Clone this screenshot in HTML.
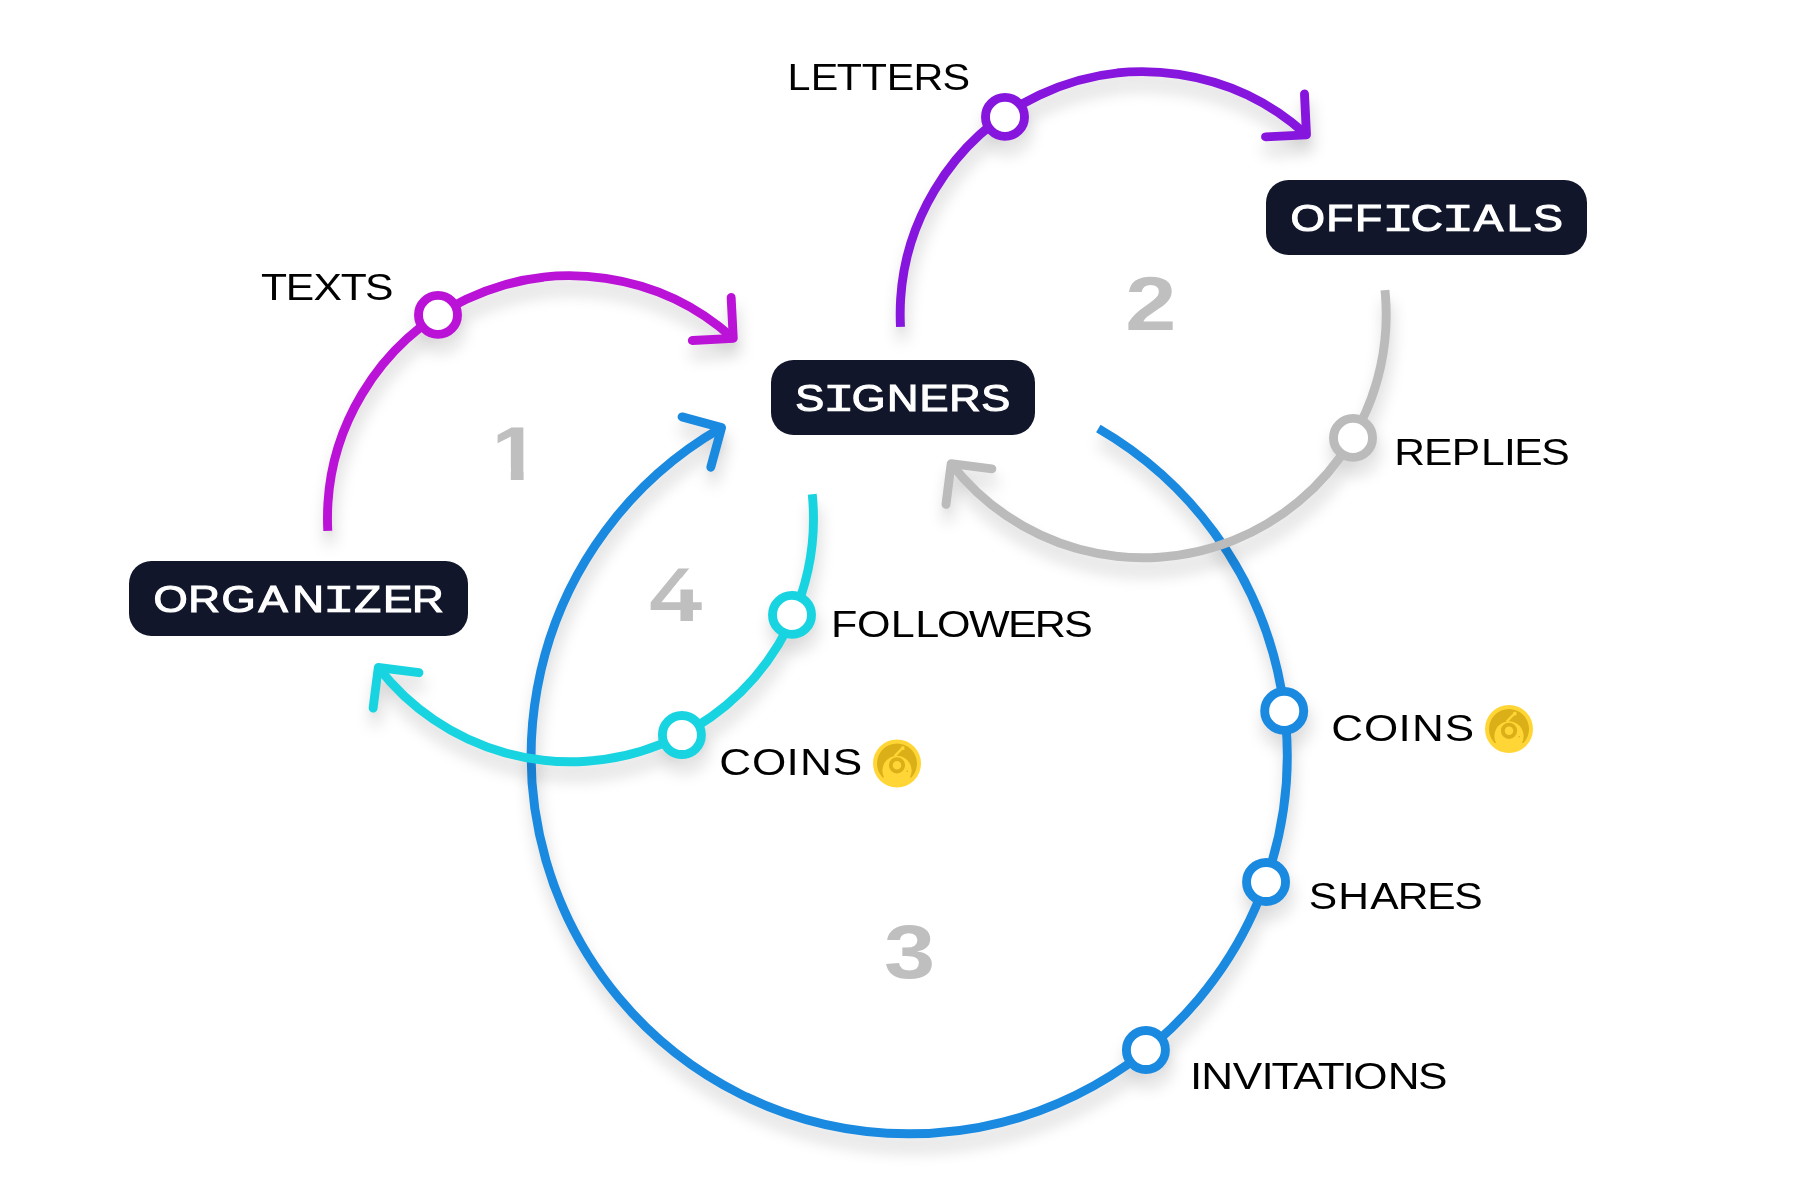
<!DOCTYPE html>
<html lang="en">
<head>
<meta charset="utf-8">
<title>Flow diagram</title>
<style>
  html, body { margin: 0; padding: 0; background: #fff; }
  body { width: 1800px; height: 1200px; overflow: hidden; }
  svg { display: block; }
  text { font-family: "Liberation Sans", sans-serif; font-size: 100px; }
  .bx { font-weight: 400; fill: #fff; stroke: #fff; stroke-width: 3.0px; }
  .lb { font-weight: 400; fill: #000; }
  .nm { font-weight: 700; fill: #BFBFBF; }
</style>
</head>
<body>
<svg width="1800" height="1200" viewBox="0 0 1800 1200" role="img" aria-label="Flow diagram: organizer, signers, officials">
  <defs>
    <filter id="sh" x="0" y="0" width="1800" height="1200" filterUnits="userSpaceOnUse" color-interpolation-filters="sRGB">
      <feGaussianBlur in="SourceAlpha" stdDeviation="7.3"/>
      <feOffset dx="2" dy="12.5" result="b"/>
      <feFlood flood-color="#000" flood-opacity="0.165"/>
      <feComposite in2="b" operator="in" result="s1"/>
      <feGaussianBlur in="SourceAlpha" stdDeviation="3"/>
      <feOffset dx="1" dy="5" result="b2"/>
      <feFlood flood-color="#000" flood-opacity="0.03"/>
      <feComposite in2="b2" operator="in" result="s2"/>
      <feMerge><feMergeNode in="s1"/><feMergeNode in="s2"/></feMerge>
    </filter>
    <clipPath id="one" clipPathUnits="userSpaceOnUse">
      <rect x="497.6" y="420" width="14" height="48"/>
      <rect x="510.8" y="420" width="12.8" height="62"/>
    </clipPath>
    <g id="arc-blue-l">
      <path d="M1098.33 428.52A378.00 378.00 0 1 1 721.58 427.65"/>
      <path d="M682.03 416.87L721.58 427.65L710.81 467.20" stroke-linecap="round" stroke-linejoin="round"/>
    </g>
    <g id="arc-blue-n">
      <circle cx="1284.20" cy="710.90" r="19.5"/>
      <circle cx="1266.05" cy="882.00" r="19.5"/>
      <circle cx="1145.90" cy="1050.00" r="19.5"/>
    </g>
    <g id="arc-grey-l">
      <path d="M1384.94 290.10A243.00 243.00 0 0 1 951.15 463.69"/>
      <path d="M946.00 504.36L951.15 463.69L991.83 468.84" stroke-linecap="round" stroke-linejoin="round"/>
    </g>
    <g id="arc-grey-n">
      <circle cx="1353.00" cy="437.90" r="19.5"/>
    </g>
    <g id="arc-purple-l">
      <path d="M900.50 326.89A243.00 243.00 0 0 1 1306.47 134.82"/>
      <path d="M1304.48 93.87L1306.47 134.82L1265.52 136.82" stroke-linecap="round" stroke-linejoin="round"/>
    </g>
    <g id="arc-purple-n">
      <circle cx="1005.00" cy="116.90" r="19.5"/>
    </g>
    <g id="arc-magenta-l">
      <path d="M327.80 530.87A243.00 243.00 0 0 1 733.25 338.35"/>
      <path d="M731.14 297.41L733.25 338.35L692.31 340.46" stroke-linecap="round" stroke-linejoin="round"/>
    </g>
    <g id="arc-magenta-n">
      <circle cx="438.00" cy="314.90" r="19.5"/>
    </g>
    <g id="arc-cyan-l">
      <path d="M812.25 494.20A243.00 243.00 0 0 1 378.30 667.48"/>
      <path d="M373.10 708.15L378.30 667.48L418.97 672.68" stroke-linecap="round" stroke-linejoin="round"/>
    </g>
    <g id="arc-cyan-n">
      <circle cx="792.00" cy="614.90" r="19.5"/>
      <circle cx="681.90" cy="735.00" r="19.5"/>
    </g>
    <clipPath id="four" clipPathUnits="userSpaceOnUse">
      <path d="M640 560H696.2L671.9 589.6H712V630H640Z"/>
    </clipPath>
    <g id="coin">
      <circle r="24" fill="#FFD635"/>
      <path d="M14.38 13.9A20 20 0 1 0 -14.38 13.9L-12.9 13.9A14.65 14.65 0 1 1 12.9 13.9Z" fill="#DAAF17"/>
      <path d="M-2.3 -7.3L6 -16" stroke="#FFD635" stroke-width="2.4" fill="none"/>
      <rect x="4.4" y="-17.2" width="3" height="3.6" fill="#FFD635"/>
      <circle cy="1.8" r="6.2" fill="none" stroke="#DAAF17" stroke-width="3.8"/>
      <circle cx="10.2" cy="7.8" r="0.8" fill="#DAAF17"/>
    </g>
  </defs>
  <rect width="1800" height="1200" fill="#fff"/>
  <g class="nums" opacity="0.999">
    <g clip-path="url(#one)"><text class="nm" transform="translate(489.24 479.75) scale(0.9259 0.7602)">1</text></g>
    <text class="nm" transform="translate(1125.34 329.80) scale(0.9184 0.7602)">2</text>
    <text class="nm" transform="translate(883.96 978.00) scale(0.9200 0.7631)">3</text>
    <g clip-path="url(#four)"><text class="nm" transform="translate(649.35 620.80) scale(0.9519 0.7631)">4</text></g>
  </g>
  <g stroke="#1A89E0" stroke-width="8.9" fill="none">
    <g filter="url(#sh)"><use href="#arc-blue-l"/><use href="#arc-blue-n"/></g>
    <use href="#arc-blue-l"/>
    <use href="#arc-blue-n" fill="#fff"/>
  </g>
  <g stroke="#BBBBBB" stroke-width="8.9" fill="none">
    <g filter="url(#sh)"><use href="#arc-grey-l"/><use href="#arc-grey-n"/></g>
    <use href="#arc-grey-l"/>
    <use href="#arc-grey-n" fill="#fff"/>
  </g>
  <g stroke="#8616DE" stroke-width="8.9" fill="none">
    <g filter="url(#sh)"><use href="#arc-purple-l"/><use href="#arc-purple-n"/></g>
    <use href="#arc-purple-l"/>
    <use href="#arc-purple-n" fill="#fff"/>
  </g>
  <g stroke="#BA12D6" stroke-width="8.9" fill="none">
    <g filter="url(#sh)"><use href="#arc-magenta-l"/><use href="#arc-magenta-n"/></g>
    <use href="#arc-magenta-l"/>
    <use href="#arc-magenta-n" fill="#fff"/>
  </g>
  <g stroke="#18D4E0" stroke-width="8.9" fill="none">
    <g filter="url(#sh)"><use href="#arc-cyan-l"/><use href="#arc-cyan-n"/></g>
    <use href="#arc-cyan-l"/>
    <use href="#arc-cyan-n" fill="#fff"/>
  </g>
  <g class="boxes" opacity="0.999">
    <rect x="129" y="561" width="339" height="75" rx="22.5" fill="#11162A"/>
    <text class="bx" aria-label="ORGANIZER" transform="translate(0 611.50) scale(0.4397 0.3663)"><tspan x="348.9 428.2 503.5 587.8 664.4">ORGAN</tspan><tspan x="733.3" font-family="Liberation Mono, monospace" font-size="104.5" textLength="74.5" lengthAdjust="spacingAndGlyphs" stroke-width="1.4">I</tspan><tspan x="805.7 870.9 937.1">ZER</tspan></text>
    <rect x="771" y="360" width="264" height="75" rx="22.5" fill="#11162A"/>
    <text class="bx" aria-label="SIGNERS" transform="translate(0 410.60) scale(0.4344 0.3663)"><tspan x="1830.8">S</tspan><tspan x="1893.6" font-family="Liberation Mono, monospace" font-size="104.5" textLength="75.4" lengthAdjust="spacingAndGlyphs" stroke-width="1.4">I</tspan><tspan x="1960.8 2041.9 2116.8 2185.4 2258.9">GNERS</tspan></text>
    <rect x="1266" y="180" width="321" height="75" rx="22.5" fill="#11162A"/>
    <text class="bx" aria-label="OFFICIALS" transform="translate(0 230.60) scale(0.4444 0.3663)"><tspan x="2904.1 2984.1 3049.0">OFF</tspan><tspan x="3109.3" font-family="Liberation Mono, monospace" font-size="104.5" textLength="73.6" lengthAdjust="spacingAndGlyphs" stroke-width="1.4">I</tspan><tspan x="3174.5">C</tspan><tspan x="3242.9" font-family="Liberation Mono, monospace" font-size="104.5" textLength="75.1" lengthAdjust="spacingAndGlyphs" stroke-width="1.4">I</tspan><tspan x="3316.4 3390.4 3450.4">ALS</tspan></text>
  </g>
  <g class="labels" opacity="0.999">
    <text class="lb" aria-label="TEXTS" transform="translate(0 299.80) scale(0.4262 0.3779)"><tspan x="612.6 670.6 735.5 799.8 856.5">TEXTS</tspan></text>
    <text class="lb" aria-label="LETTERS" transform="translate(0 89.90) scale(0.4131 0.3779)"><tspan x="1906.5 1962.4 2025.8 2086.2 2146.4 2211.2 2281.7">LETTERS</tspan></text>
    <text class="lb" aria-label="REPLIES" transform="translate(0 465.00) scale(0.4265 0.3779)"><tspan x="3269.0 3338.7 3403.8 3472.6 3526.3 3550.2 3613.9">REPLIES</tspan></text>
    <text class="lb" aria-label="FOLLOWERS" transform="translate(0 637.00) scale(0.4312 0.3779)"><tspan x="1927.3 1987.4 2065.9 2122.6 2172.8 2247.5 2337.7 2399.9 2467.6">FOLLOWERS</tspan></text>
    <text class="lb" aria-label="COINS" transform="translate(0 775.10) scale(0.4418 0.3779)"><tspan x="1627.8 1701.9 1780.4 1810.7 1884.9">COINS</tspan></text>
    <text class="lb" aria-label="COINS" transform="translate(0 740.60) scale(0.4402 0.3779)"><tspan x="3024.0 3098.5 3176.9 3207.5 3282.2">COINS</tspan></text>
    <text class="lb" aria-label="SHARES" transform="translate(0 908.90) scale(0.4258 0.3779)"><tspan x="3073.7 3142.9 3217.8 3282.8 3352.1 3415.3">SHARES</tspan></text>
    <text class="lb" aria-label="INVITATIONS" transform="translate(0 1088.80) scale(0.4417 0.3779)"><tspan x="2694.3 2719.5 2790.8 2856.2 2878.7 2928.2 2983.4 3039.5 3063.5 3141.6 3210.5">INVITATIONS</tspan></text>
  </g>
  <g class="coins">
    <use href="#coin" x="897" y="763.5"/>
    <use href="#coin" x="1509" y="729"/>
  </g>
</svg>
</body>
</html>
